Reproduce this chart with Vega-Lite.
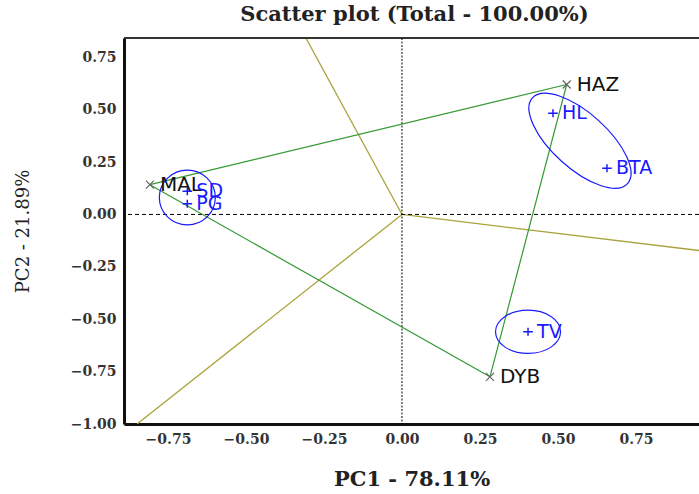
{
  "$schema": "https://vega.github.io/schema/vega-lite/v6.json",
  "width": 575,
  "height": 386,
  "autosize": {"type": "none"},
  "padding": {"left": 124, "top": 38, "right": 0, "bottom": 70},
  "background": "white",
  "title": {
    "text": "Scatter plot (Total - 100.00%)",
    "font": "DejaVu Serif",
    "fontWeight": "bold",
    "fontSize": 21,
    "color": "#222222",
    "anchor": "middle",
    "dx": 3,
    "offset": 12
  },
  "config": {
    "view": {"stroke": null}
  },
  "datasets": {
    "sites": [
      {"name": "HAZ", "pc1": 0.528, "pc2": 0.620},
      {"name": "MAL", "pc1": -0.808, "pc2": 0.142},
      {"name": "DYB", "pc1": 0.282, "pc2": -0.775}
    ],
    "objects": [
      {"name": "HL", "pc1": 0.484, "pc2": 0.483, "cluster": "upper"},
      {"name": "BTA", "pc1": 0.657, "pc2": 0.220, "cluster": "upper"},
      {"name": "TV", "pc1": 0.404, "pc2": -0.560, "cluster": "lower"},
      {"name": "SD", "pc1": -0.688, "pc2": 0.111, "cluster": "left"},
      {"name": "PG", "pc1": -0.688, "pc2": 0.051, "cluster": "left"}
    ],
    "edges": [
      {"a": "MAL", "b": "HAZ"},
      {"a": "HAZ", "b": "DYB"},
      {"a": "DYB", "b": "MAL"}
    ],
    "loadings": [
      {"var": "v1", "x": 0, "y": 0, "x2": -0.308, "y2": 0.842},
      {"var": "v2", "x": 0, "y": 0, "x2": 0.952, "y2": -0.172},
      {"var": "v3", "x": 0, "y": 0, "x2": -0.849, "y2": -1.0}
    ]
  },
  "layer": [
    {
      "description": "variable loading vectors; this layer carries the axis settings",
      "data": {"name": "loadings"},
      "mark": {"type": "rule", "color": "#aaa23c", "strokeWidth": 1.3, "clip": true},
      "encoding": {
        "x": {
          "field": "x", "type": "quantitative",
          "scale": {"domain": [-0.891, 0.952], "zero": false, "nice": false},
          "axis": {
            "orient": "bottom",
            "values": [-0.75, -0.5, -0.25, 0, 0.25, 0.5, 0.75],
            "format": ".2f",
            "grid": false,
            "ticks": false,
            "domainColor": "#111111",
            "domainWidth": 3,
            "labelFont": "DejaVu Serif",
            "labelFontWeight": "bold",
            "labelFontSize": 14,
            "labelColor": "#333333",
            "labelPadding": 8,
            "title": "PC1 - 78.11%",
            "titleFont": "DejaVu Serif",
            "titleFontWeight": "bold",
            "titleFontSize": 21,
            "titleColor": "#222222",
            "titlePadding": 22
          }
        },
        "y": {
          "field": "y", "type": "quantitative",
          "scale": {"domain": [-1.0, 0.842], "zero": false, "nice": false},
          "axis": {
            "orient": "left",
            "values": [-1, -0.75, -0.5, -0.25, 0, 0.25, 0.5, 0.75],
            "format": ".2f",
            "grid": false,
            "ticks": false,
            "domainColor": "#111111",
            "domainWidth": 3,
            "labelFont": "DejaVu Serif",
            "labelFontWeight": "bold",
            "labelFontSize": 14,
            "labelColor": "#333333",
            "labelPadding": 8,
            "title": "PC2 - 21.89%",
            "titleFont": "DejaVu Serif",
            "titleFontWeight": "normal",
            "titleFontSize": 18,
            "titleColor": "#222222",
            "titlePadding": 38
          }
        },
        "x2": {"field": "x2"},
        "y2": {"field": "y2"}
      }
    },
    {
      "description": "top edge of the frame",
      "data": {"values": [{}]},
      "mark": {"type": "rule", "color": "#333333", "strokeWidth": 2},
      "encoding": {
        "y": {"datum": 0.842, "type": "quantitative"}
      }
    },
    {
      "description": "zero reference lines",
      "data": {"values": [{}]},
      "mark": {"type": "rule", "color": "#000000", "strokeWidth": 1, "strokeDash": [2, 1.5]},
      "encoding": {
        "x": {"datum": 0, "type": "quantitative"}
      }
    },
    {
      "data": {"values": [{}]},
      "mark": {"type": "rule", "color": "#000000", "strokeWidth": 1, "strokeDash": [4, 3]},
      "encoding": {
        "y": {"datum": 0, "type": "quantitative"}
      }
    },
    {
      "description": "triangle joining the three sites",
      "data": {"name": "edges"},
      "transform": [
        {"lookup": "a", "from": {"data": {"name": "sites"}, "key": "name", "fields": ["pc1", "pc2"]}, "as": ["ax", "ay"]},
        {"lookup": "b", "from": {"data": {"name": "sites"}, "key": "name", "fields": ["pc1", "pc2"]}, "as": ["bx", "by"]}
      ],
      "mark": {"type": "rule", "color": "#339933", "strokeWidth": 1.2},
      "encoding": {
        "x": {"field": "ax", "type": "quantitative"},
        "y": {"field": "ay", "type": "quantitative"},
        "x2": {"field": "bx"},
        "y2": {"field": "by"}
      }
    },
    {
      "description": "cluster ellipses around the group centroids",
      "data": {"name": "objects"},
      "transform": [
        {"filter": "datum.cluster === 'upper'"},
        {"aggregate": [{"op": "mean", "field": "pc1", "as": "cx"}, {"op": "mean", "field": "pc2", "as": "cy"}], "groupby": ["cluster"]}
      ],
      "mark": {
        "type": "point", "filled": false, "color": "#1a1aff", "strokeWidth": 1.2, "opacity": 1,
        "shape": "M1,0C1,0.2375 0.5523,0.43 0,0.43C-0.5523,0.43 -1,0.2375 -1,0C-1,-0.2375 -0.5523,-0.43 0,-0.43C0.5523,-0.43 1,-0.2375 1,0Z",
        "size": 16384, "angle": 42
      },
      "encoding": {
        "x": {"field": "cx", "type": "quantitative"},
        "y": {"field": "cy", "type": "quantitative"}
      }
    },
    {
      "data": {"name": "objects"},
      "transform": [
        {"filter": "datum.cluster === 'lower'"},
        {"aggregate": [{"op": "mean", "field": "pc1", "as": "cx"}, {"op": "mean", "field": "pc2", "as": "cy"}], "groupby": ["cluster"]}
      ],
      "mark": {
        "type": "point", "filled": false, "color": "#1a1aff", "strokeWidth": 1.2, "opacity": 1,
        "shape": "M1,0C1,0.3684 0.5523,0.667 0,0.667C-0.5523,0.667 -1,0.3684 -1,0C-1,-0.3684 -0.5523,-0.667 0,-0.667C0.5523,-0.667 1,-0.3684 1,0Z",
        "size": 4225
      },
      "encoding": {
        "x": {"field": "cx", "type": "quantitative"},
        "y": {"field": "cy", "type": "quantitative"}
      }
    },
    {
      "data": {"name": "objects"},
      "transform": [
        {"filter": "datum.cluster === 'left'"},
        {"aggregate": [{"op": "mean", "field": "pc1", "as": "cx"}, {"op": "mean", "field": "pc2", "as": "cy"}], "groupby": ["cluster"]}
      ],
      "mark": {
        "type": "point", "filled": false, "color": "#1a1aff", "strokeWidth": 1.2, "opacity": 1,
        "shape": "M1,0C1,0.5413 0.5523,0.98 0,0.98C-0.5523,0.98 -1,0.5413 -1,0C-1,-0.5413 -0.5523,-0.98 0,-0.98C0.5523,-0.98 1,-0.5413 1,0Z",
        "size": 3136
      },
      "encoding": {
        "x": {"field": "cx", "type": "quantitative"},
        "y": {"field": "cy", "type": "quantitative"}
      }
    },
    {
      "description": "site markers",
      "data": {"name": "sites"},
      "mark": {"type": "point", "filled": false, "color": "#666666", "strokeWidth": 1.2, "opacity": 1, "shape": "M-1,-1L1,1M-1,1L1,-1", "size": 64},
      "encoding": {
        "x": {"field": "pc1", "type": "quantitative"},
        "y": {"field": "pc2", "type": "quantitative"}
      }
    },
    {
      "data": {"name": "sites"},
      "mark": {"type": "text", "align": "left", "baseline": "middle", "dx": 10, "font": "DejaVu Sans", "fontSize": 20, "color": "#111111"},
      "encoding": {
        "x": {"field": "pc1", "type": "quantitative"},
        "y": {"field": "pc2", "type": "quantitative"},
        "text": {"field": "name", "type": "nominal"}
      }
    },
    {
      "description": "object markers",
      "data": {"name": "objects"},
      "mark": {"type": "point", "filled": false, "color": "#1a1aff", "strokeWidth": 1.5, "opacity": 1, "shape": "M-1.2,0L1.2,0M0,-1L0,1", "size": 64},
      "encoding": {
        "x": {"field": "pc1", "type": "quantitative"},
        "y": {"field": "pc2", "type": "quantitative"}
      }
    },
    {
      "data": {"name": "objects"},
      "mark": {"type": "text", "align": "left", "baseline": "middle", "dx": 9, "font": "DejaVu Sans", "fontSize": 19, "color": "#1a1aff"},
      "encoding": {
        "x": {"field": "pc1", "type": "quantitative"},
        "y": {"field": "pc2", "type": "quantitative"},
        "text": {"field": "name", "type": "nominal"}
      }
    }
  ]
}
